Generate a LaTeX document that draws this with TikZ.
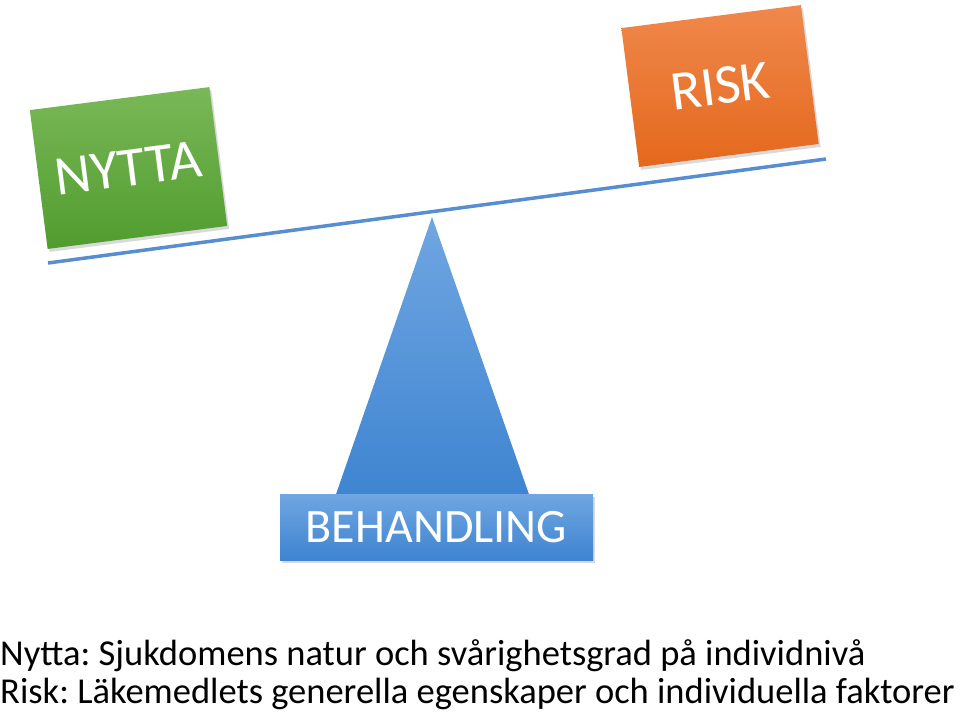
\documentclass[tikz,border=0pt]{standalone}
\usepackage{fontspec}
\setmainfont{Carlito}
\usetikzlibrary{positioning,shadows}
\definecolor{beamblue}{RGB}{86,142,208}
\definecolor{blueTop}{RGB}{112,166,226}
\definecolor{blueBot}{RGB}{62,132,208}
\definecolor{greenTop}{RGB}{122,184,88}
\definecolor{greenBot}{RGB}{80,156,46}
\definecolor{orangeTop}{RGB}{240,136,76}
\definecolor{orangeBot}{RGB}{228,104,28}
\frenchspacing

\begin{document}
\begin{tikzpicture}[
  x=1pt, y=-1pt,
  card/.style={minimum width=181pt, minimum height=140pt, inner sep=0pt, text=white,
    font=\fontsize{56}{58}\selectfont, rotate=7.3,
    drop shadow={opacity=0.3, shadow xshift=2pt, shadow yshift=-3pt}},
  base/.style={minimum width=313pt, minimum height=66pt, inner sep=0pt, text=white,
    font=\fontsize{48}{50}\selectfont, top color=blueTop, bottom color=blueBot,
    drop shadow={opacity=0.3, shadow xshift=2pt, shadow yshift=-3pt}},
  caption/.style={anchor=base west, inner sep=0pt, font=\fontsize{36.5}{38}\selectfont}
]
\useasboundingbox (0,0) rectangle (960,713);

% beam
\coordinate (beamL) at (48,263);
\coordinate (beamR) at (826,159);
\draw[beamblue, line width=3.5pt] (beamL) -- (beamR);

% fulcrum
\coordinate (apex) at (432,217);
\shade[top color=blueTop, bottom color=blueBot] (apex) -- (334,500) -- (531,500) -- cycle;

% boxes
\node[card, top color=greenTop, bottom color=greenBot] (nytta) at (128.5,168) {NYTTA};
\node[card, top color=orangeTop, bottom color=orangeBot] (risk) at (720,86) {RISK};
\node[base] (behandling) at (436.5,527) {BEHANDLING};

% captions
\node[caption] (nyttatext) at (0,665) {Nytta: Sjukdomens natur och svårighetsgrad på individnivå};
\node[caption] (risktext) at (0,703) {Risk: Läkemedlets generella egenskaper och individuella faktorer};
\end{tikzpicture}
\end{document}
